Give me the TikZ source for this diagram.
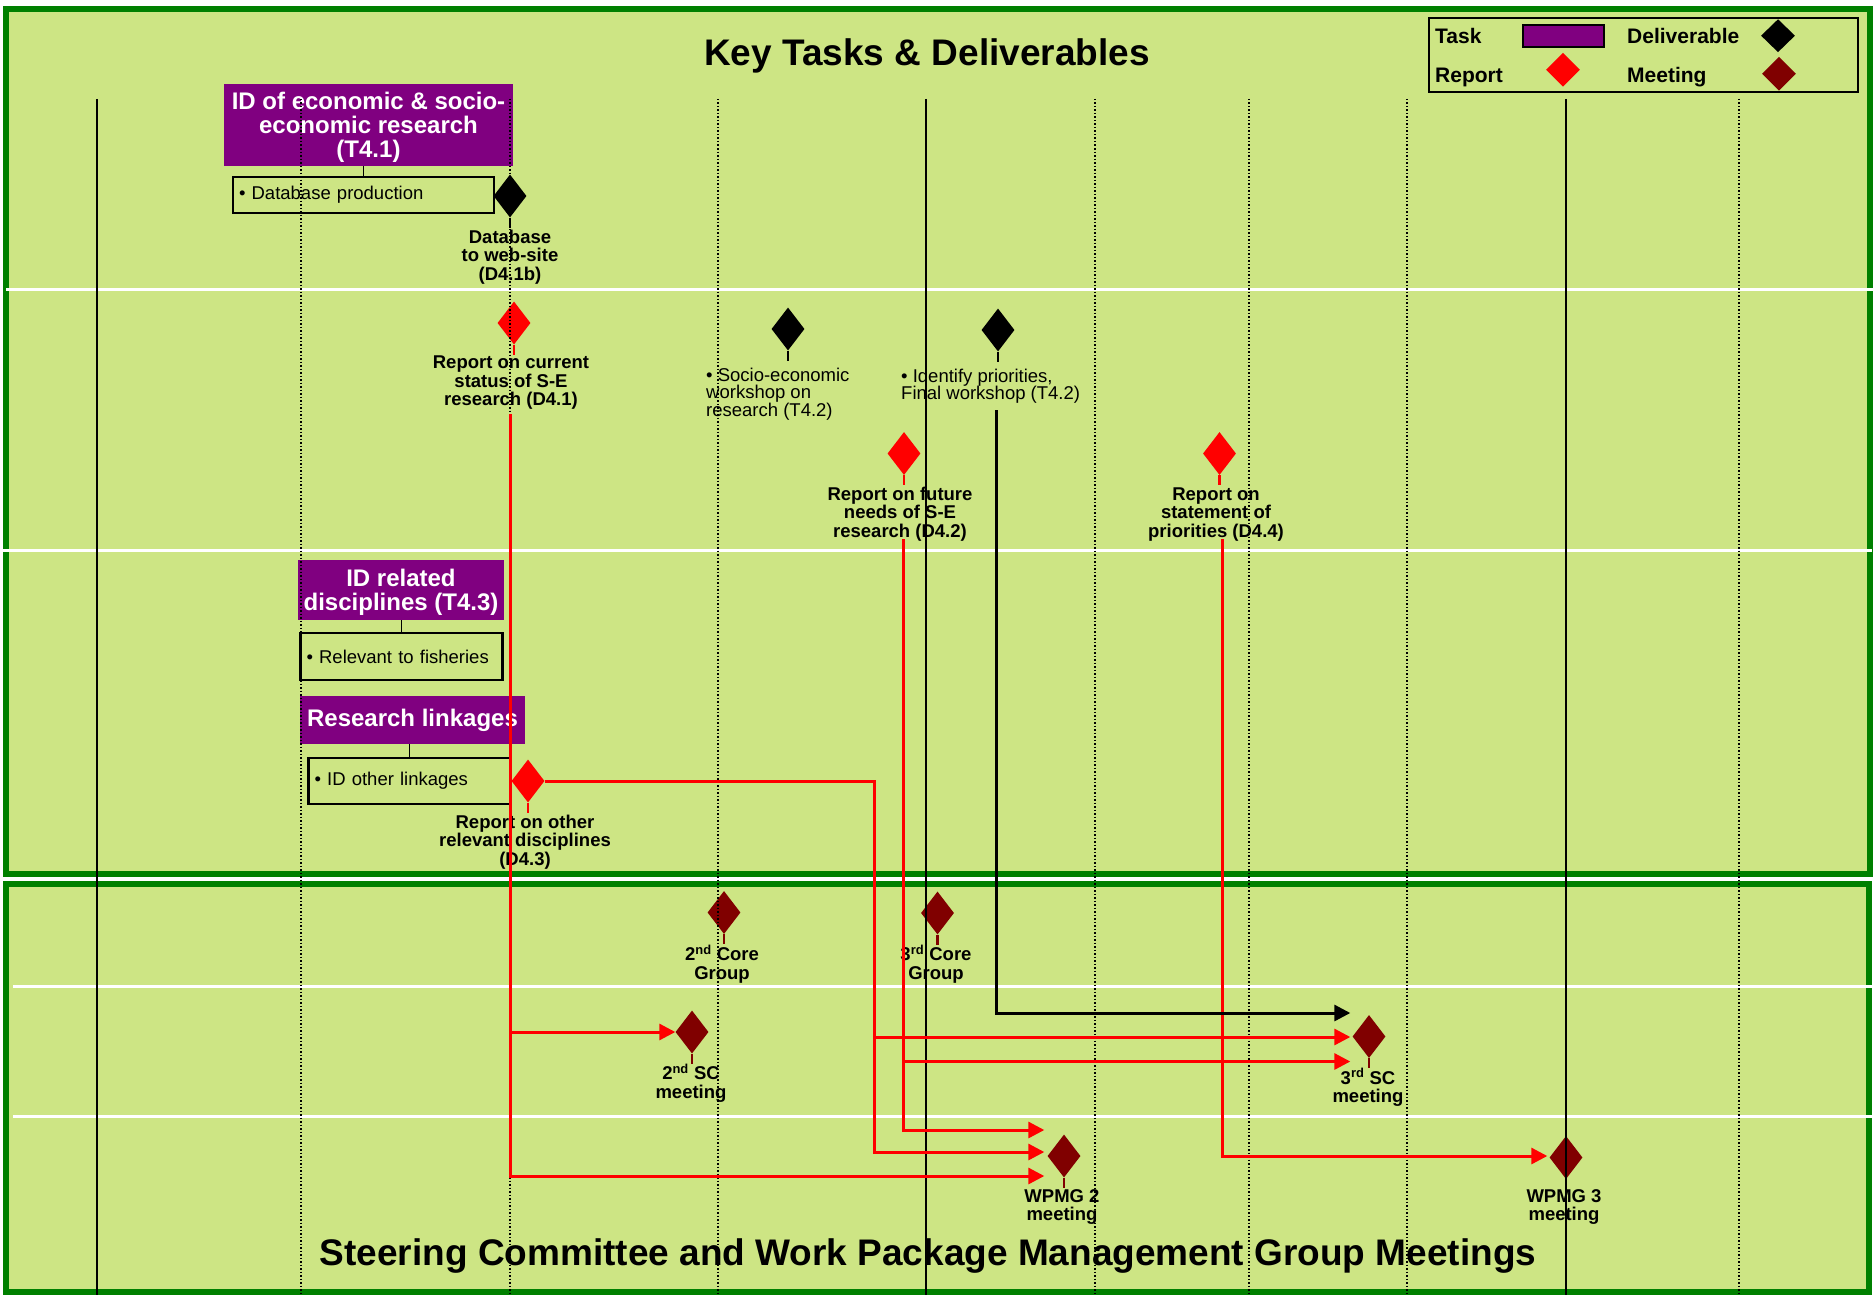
\documentclass[tikz,border=0pt]{standalone}
\usepackage{fontspec}
\setmainfont{Liberation Sans}
\usetikzlibrary{shapes.geometric,arrows.meta,calc}
\definecolor{bggreen}{RGB}{205,229,132}
\definecolor{framegreen}{RGB}{0,128,0}
\definecolor{taskpurple}{RGB}{128,0,128}
\definecolor{meetred}{RGB}{128,0,0}

\begin{document}
\begin{tikzpicture}[x=1pt,y=-1pt,
  frame/.style={draw=framegreen,line width=6,fill=bggreen},
  band/.style={white,line width=3},
  gridsolid/.style={black,line width=1.5},
  griddot/.style={black,line width=1.5,dotted},
  task/.style={fill=taskpurple,text=white,font=\fontsize{24}{24}\selectfont\bfseries,align=center,inner sep=0},
  sub/.style={draw,line width=2.3,font=\fontsize{18.5}{18}\selectfont,align=left,inner xsep=6,inner ysep=0},
  mile/.style={diamond,inner sep=0,minimum width=33,minimum height=43},
  deliv/.style={mile,fill=black},
  report/.style={mile,fill=red},
  meet/.style={mile,fill=meetred},
  lbl/.style={font=\fontsize{18.5}{18.5}\selectfont\bfseries,align=center,inner sep=0},
  note/.style={font=\fontsize{18.5}{17.5}\selectfont,align=left,inner sep=0,anchor=west},
  legtxt/.style={font=\fontsize{21}{21}\selectfont\bfseries,inner sep=0,anchor=base west},
  heading/.style={font=\fontsize{37}{37}\selectfont\bfseries,inner sep=0,anchor=base},
  redline/.style={red,line width=3,-{Triangle[length=16pt,width=16pt]}},
  blkline/.style={black,line width=3,-{Triangle[length=16pt,width=16pt]}}]

\useasboundingbox (0,0) rectangle (1876,1295);
\fill[white] (0,0) rectangle (1876,1295);

% panels
\draw[frame] (6,9) rectangle (1870,874);
\draw[frame] (6,884) rectangle (1869,1292);
\draw[band] (6,289) -- (1876,289);
\draw[band] (0,550) -- (1872,550);
\draw[band] (13,986) -- (1876,986);
\draw[band] (13,1116) -- (1876,1116);

\node[heading] (title) at (927,66) {Key Tasks \& Deliverables};
\node[heading] (subtitle) at (928,1265) {Steering Committee and Work Package Management Group Meetings};

% legend
\node[draw,line width=2,minimum width=429,minimum height=74,inner sep=0] (legend) at (1643.5,55) {};
\node[legtxt] (legtasktxt) at (1435,44) {Task};
\node[legtxt] (legdelivtxt) at (1627,44) {Deliverable};
\node[legtxt] (legreporttxt) at (1435,83) {Report};
\node[legtxt] (legmeettxt) at (1627,83) {Meeting};
\node[draw,line width=2,fill=taskpurple,minimum width=81,minimum height=22,inner sep=0] (legtask) at (1563.5,36) {};
\node[deliv,minimum width=34,minimum height=33] (legdeliv) at (1778,35.7) {};
\node[report,minimum width=34,minimum height=34] (legreport) at (1563,69.7) {};
\node[meet,minimum width=34,minimum height=34] (legmeet) at (1779,73.7) {};

% tasks
\node[task,minimum width=289,minimum height=82] (t41) at (368.5,125) {\rule{0pt}{21pt}ID of economic \& socio-\\economic research\\(T4.1)};
\node[sub,text width=249,minimum height=36] (dbbox) at (363.5,195) {\textbullet\ Database production};
\node[task,minimum width=206,minimum height=60] (t43) at (401,590) {\rule{0pt}{21pt}ID related\\disciplines (T4.3)};
\node[sub,text width=190,minimum height=47] (fishbox) at (401.5,656.5) {\textbullet\ Relevant to fisheries};
\node[task,minimum width=225,minimum height=48] (t44) at (412.5,720) {Research linkages};
\node[sub,text width=190,minimum height=46.5] (linkbox) at (409.5,781) {\textbullet\ ID other linkages};
\draw[line width=1.5] (dbbox.north) -- (dbbox.north |- t41.south);
\draw[line width=1.5] (fishbox.north) -- (fishbox.north |- t43.south);
\draw[line width=1.5] (linkbox.north) -- (linkbox.north |- t44.south);

% deliverables and reports
\node[deliv] (d41b) at (510,196) {};
\node[lbl] (d41btxt) at (510,257) {Database\\to web-site\\(D4.1b)};
\node[report] (r41) at (514,323) {};
\node[lbl] (r41txt) at (511,383) {Report on current\\status of S-E\\research (D4.1)};
\node[deliv] (t42a) at (788,329) {};
\node[note] (t42atxt) at (706,394) {\textbullet\ Socio-economic\\workshop on\\research (T4.2)};
\node[deliv] (t42b) at (998,330) {};
\node[note] (t42btxt) at (901,386) {\textbullet\ Identify priorities,\\Final workshop (T4.2)};
\node[report] (r42) at (904,453.5) {};
\node[lbl] (r42txt) at (900,514) {Report on future\\needs of S-E\\research (D4.2)};
\node[report] (r44) at (1219.5,453.5) {};
\node[lbl] (r44txt) at (1216,514.5) {Report on\\statement of\\priorities (D4.4)};
\node[report] (r43) at (528,781) {};
\node[lbl] (r43txt) at (525,842) {Report on other\\relevant disciplines\\(D4.3)};

% meetings
\node[meet] (cg2) at (724,912.5) {};
\node[lbl] (cg2txt) at (722,964) {2\textsuperscript{nd} Core\\Group};
\node[meet] (cg3) at (937.5,913) {};
\node[lbl] (cg3txt) at (936,964) {3\textsuperscript{rd} Core\\Group};
\node[meet] (sc2) at (692,1032) {};
\node[lbl] (sc2txt) at (691,1083) {2\textsuperscript{nd} SC\\meeting};
\node[meet] (sc3) at (1369,1036.5) {};
\node[lbl] (sc3txt) at (1368,1087.5) {3\textsuperscript{rd} SC\\meeting};
\node[meet] (wpmg2) at (1064,1156) {};
\node[lbl] (wpmg2txt) at (1062,1207) {WPMG 2\\meeting};
\node[meet] (wpmg3) at (1566,1157.5) {};
\node[lbl] (wpmg3txt) at (1564,1207) {WPMG 3\\meeting};

\foreach \n/\c in {d41b/black,r41/red,t42a/black,t42b/black,r42/red,r44/red,r43/red,
  cg2/meetred,cg3/meetred,sc2/meetred,sc3/meetred,wpmg2/meetred,wpmg3/meetred}
  \draw[\c,line width=2.5] (\n.south) -- ++(0,10);

% time grid
\foreach \x in {97,926,1566}
  \draw[gridsolid] (\x,99) -- (\x,1295);
\foreach \x in {301,510,718,1095,1249,1407,1739}
  \draw[griddot] (\x,99) -- (\x,1295);

% links to meetings
\coordinate (r41out) at (510,414);
\coordinate (r42out) at (903,539);
\coordinate (r44out) at (1222,539);
\coordinate (t42out) at (996,410);
\coordinate (r43turn) at (874,781);

\draw[redline] (r41out) |- (sc2.west);
\draw[redline] (r41out) |- ($(wpmg2.west)+(-3,20)$);
\draw[redline] (r43.east) -- (r43turn) |- ($(sc3.west)+(-2,0.5)$);
\draw[redline] (r43turn) |- ($(wpmg2.west)+(-3,-4)$);
\draw[redline] (r42out) |- ($(sc3.west)+(-2,25)$);
\draw[redline] (r42out) |- ($(wpmg2.west)+(-3,-26)$);
\draw[redline] (r44out) |- ($(wpmg3.west)+(-2,-1.5)$);
\draw[blkline] (t42out) |- ($(sc3.west)+(-2,-23.5)$);

\end{tikzpicture}
\end{document}
